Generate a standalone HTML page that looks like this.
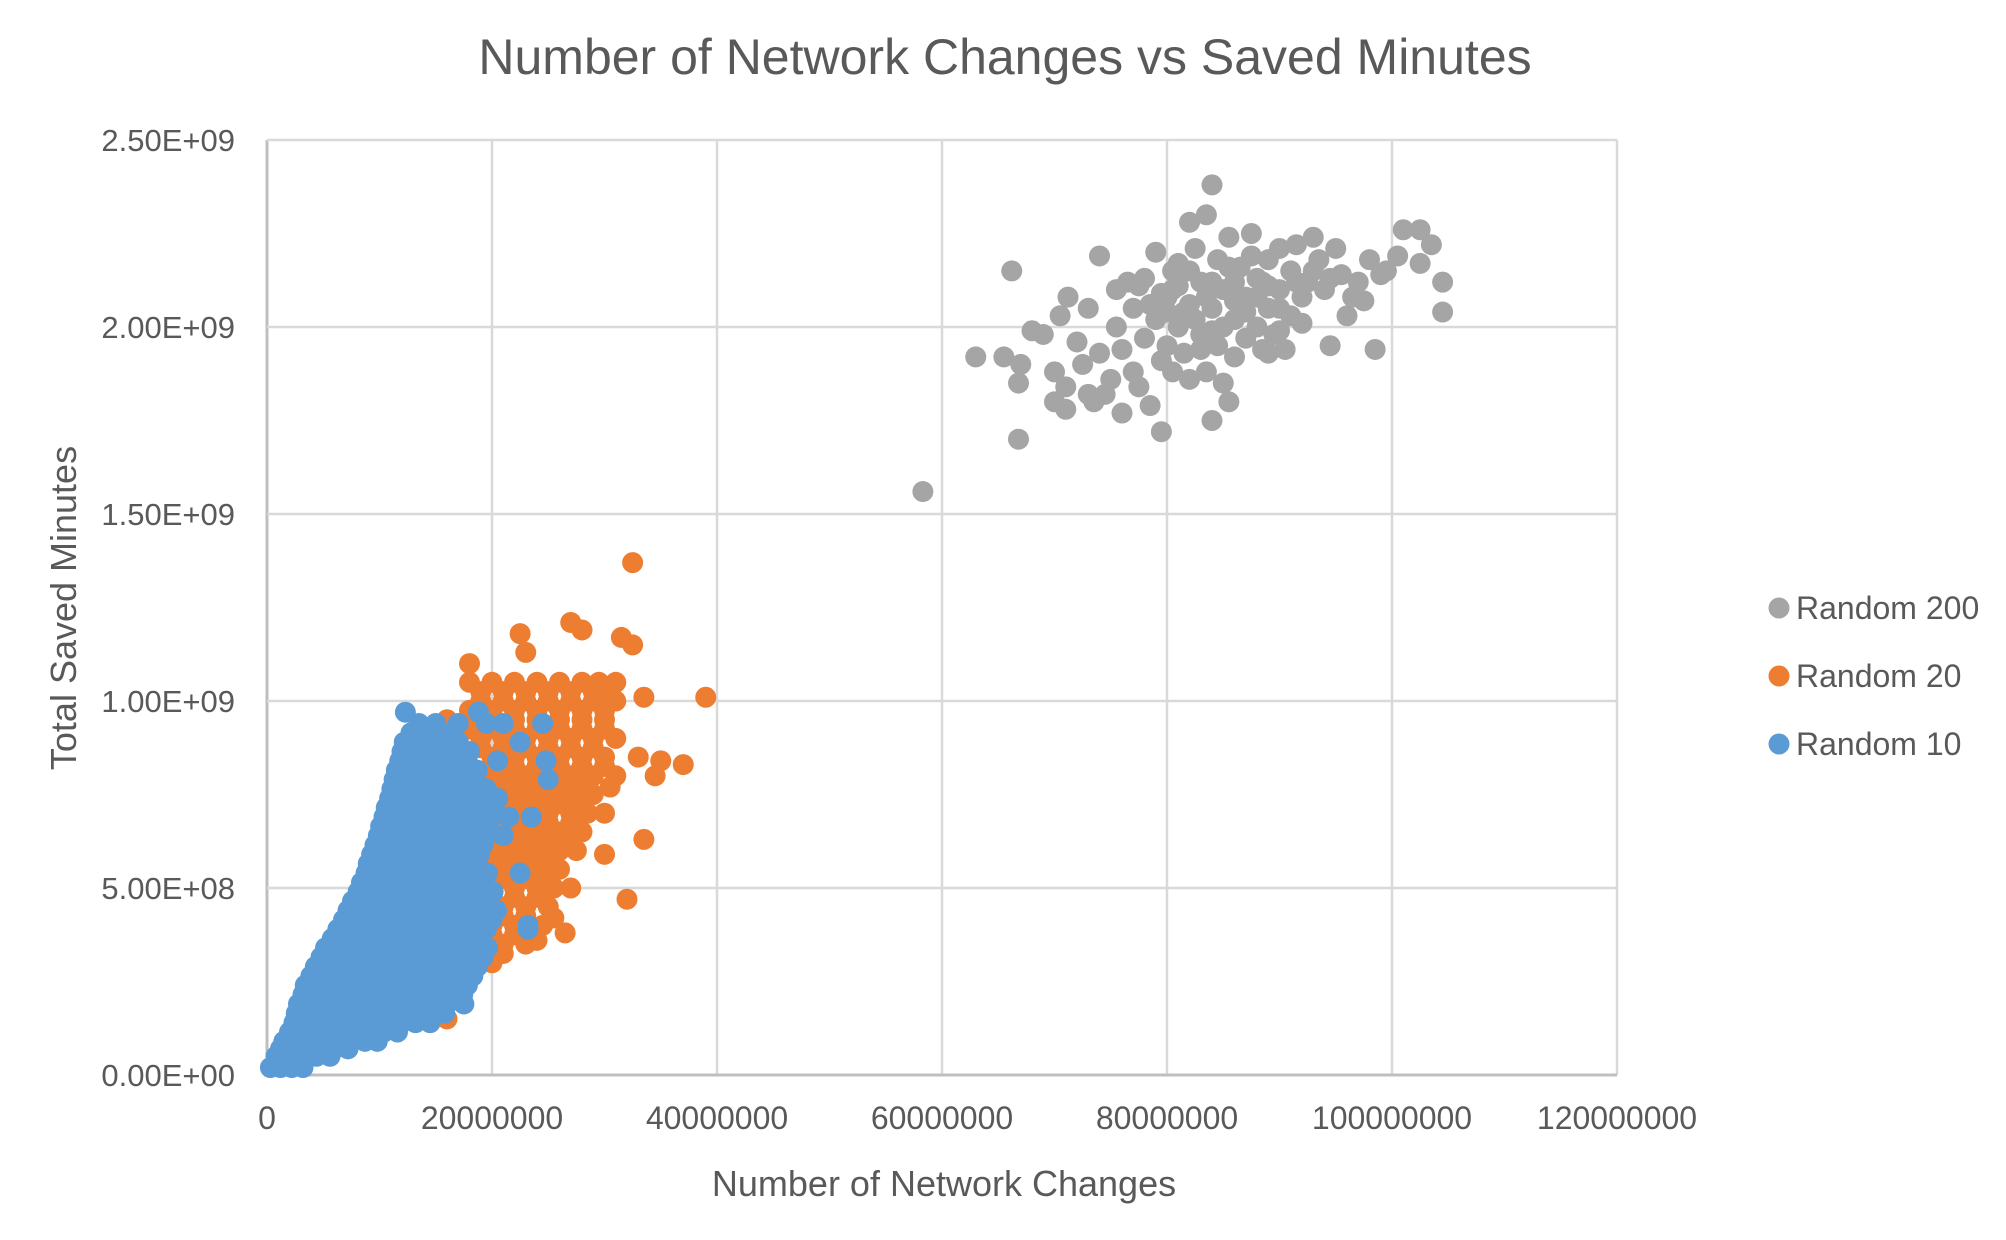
<!DOCTYPE html>
<html><head><meta charset="utf-8"><style>
body{margin:0;background:#fff;}
svg{display:block;font-family:"Liberation Sans",sans-serif;}
</style></head><body>
<svg id="chart" width="2006" height="1240" viewBox="0 0 2006 1240">
<text x="1005" y="74" text-anchor="middle" font-size="50" fill="#595959">Number of Network Changes vs Saved Minutes</text>
<g id="grid"></g>
<g id="ticks"></g>
<g id="pts"></g>
<text x="944" y="1196" text-anchor="middle" font-size="36" fill="#595959">Number of Network Changes</text>
<text transform="translate(76,608) rotate(-90)" text-anchor="middle" font-size="36" fill="#595959">Total Saved Minutes</text>
<g>
<g><circle cx="1779" cy="608" r="10.5" fill="#A5A5A5"/><text x="1796" y="619" font-size="32" fill="#595959">Random 200</text></g>
<g><circle cx="1779" cy="676" r="10.5" fill="#ED7D31"/><text x="1796" y="687" font-size="32" fill="#595959">Random 20</text></g>
<g><circle cx="1779" cy="744" r="10.5" fill="#5B9BD5"/><text x="1796" y="755" font-size="32" fill="#595959">Random 10</text></g>
</g>
</svg>
<script>
const xTicks=[0,20000000,40000000,60000000,80000000,100000000,120000000];
const xTickLabels=["0","20000000","40000000","60000000","80000000","100000000","120000000"];
const yTicks=[0,0.5,1.0,1.5,2.0,2.5];
const yTickLabels=["0.00E+00","5.00E+08","1.00E+09","1.50E+09","2.00E+09","2.50E+09"];
// x in millions, y in billions
const grayPoints=[[58.3,1.56],[66.8,1.70],[63,1.92],[65.5,1.92],[66.2,2.15],[66.8,1.85],[67,1.90],[68,1.99],[69,1.98],[70,1.88],[70,1.80],[70.5,2.03],[71,1.78],[71,1.84],[71.2,2.08],[72,1.96],[72.5,1.90],[73,2.05],[73,1.82],[73.5,1.80],[74,1.93],[74,2.19],[74.5,1.82],[75,1.86],[75.5,2.00],[75.5,2.10],[76,1.77],[76,1.94],[76.5,2.12],[77,1.88],[77,2.05],[77.5,1.84],[78,2.13],[78,1.97],[78.5,1.79],[79,2.20],[79,2.02],[79.5,1.72],[79.5,1.91],[80,2.08],[80,1.95],[80.5,2.15],[80.5,1.88],[81,2.00],[81,2.17],[81.5,1.93],[82,2.28],[82,2.06],[82,1.86],[82.5,2.21],[83,1.98],[83,2.12],[83.5,2.30],[83.5,1.88],[84,2.38],[84,1.75],[84,2.05],[84.5,2.18],[84.5,1.95],[85,1.85],[85,2.10],[85.5,1.80],[85.5,2.24],[86,2.02],[86,1.92],[86.5,2.16],[87,2.08],[87,1.97],[87.5,2.25],[88,2.13],[88,2.00],[88.5,1.94],[89,2.18],[89,2.05],[89.5,1.98],[90,2.21],[90,2.10],[90.5,1.94],[91,2.15],[91,2.03],[91.5,2.22],[92,2.08],[92.5,2.12],[93,2.24],[93.5,2.18],[94,2.10],[94.5,1.95],[95,2.21],[95.5,2.14],[96,2.03],[96.5,2.08],[97,2.12],[97.5,2.07],[98,2.18],[98.5,1.94],[99,2.14],[99.5,2.15],[100.5,2.19],[101,2.26],[102.5,2.26],[102.5,2.17],[103.5,2.22],[104.5,2.12],[104.5,2.04],[88.5,2.12],[86,2.12],[82.5,2.02],[80,2.04],[78.5,2.06],[90,1.99],[92,2.01],[87,2.04],[84,2.12],[83,1.94],[80.5,2.10],[81.5,2.04],[85,2.0],[89,1.93],[86.5,2.06],[83.5,2.08],[77.5,2.11],[79.5,2.09],[82,2.15],[84,1.99],[86,2.07],[88,2.08],[90,2.05],[91.5,2.12],[93,2.15],[94.5,2.13],[81,2.11],[87.5,2.19],[85.5,2.16],[89,2.11]];
const orangeLevels=[1.05,1.0,0.95,0.9,0.85,0.8,0.75,0.7,0.65,0.6,0.55,0.5,0.45,0.4,0.35,0.3,0.25,0.2,1.025,0.975,0.925,0.875,0.825,0.775,0.725,0.675,0.625,0.575,0.525,0.475,0.425,0.375,0.325,0.275];
const orangeXByLevel=[[18,20,22,24,26,28,29.5,31],[19,21,23,25,27,29,31],[16,18,20,22,24,26,28,30],[15,17,19,21,23,25,27,29,31],[14,20,22,24,26,28,30,33],[19,21,23,25,27,29,31],[19,21,23,25,27,29],[19,21,23,25,27,28.5,30],[20,22,24,26,28],[20,22,24,26,27.5],[20,22,24,26],[20,22,24,25.5,27],[19,21,23,25],[18,20,22,24.5],[17,19,21,23],[16,18,20],[15,17],[14,16],[19,21,23,25,27,29,30.5],[18,20,22,24,26,28,30],[16,18,20,22,24,26,28,30],[15,17,19,21,23,25,27,29],[18,20,22,24,26,28,30],[20,22,24,26,28],[20,22,24,26,28],[21,23,25,27],[21,23,25,27],[21,23,25],[21,23,25],[20,22,24],[19,21,23],[18,20,22],[17,19,21],[16,18]];
const orangeOutliers=[[32.5,1.37],[27,1.21],[28,1.19],[22.5,1.18],[31.5,1.17],[32.5,1.15],[23,1.13],[18,1.1],[39,1.01],[33.5,1.01],[37,0.83],[34.5,0.8],[33.5,0.63],[32,0.47],[26.5,0.38],[24,0.36],[16,0.15],[30,0.59],[35,0.84],[30.5,0.77],[25.5,0.42]];
const blueLevels=[0.02,0.05,0.09,0.14,0.19,0.24,0.29,0.34,0.39,0.44,0.49,0.54,0.59,0.64,0.69,0.74,0.79,0.84,0.89,0.94,0.97,0.07,0.115,0.165,0.215,0.265,0.315,0.365,0.415,0.465,0.515,0.565,0.615,0.665,0.715,0.765,0.815,0.865,0.915];
const blueXByLevel=[[0.3,1.2,2.2,3.2],[0.8,2,3.2,4.4,5.6],[1.5,2.7,3.9,5.1,6.3,7.5,8.7,9.8],[2.4,3.6,4.8,6,7.2,8.4,9.6,10.8,12,13.2,14.5],[2.8,4,5.2,6.4,7.6,8.8,10,11.2,12.4,13.6,14.8,16,17.5],[3.4,4.6,5.8,7,8.2,9.4,10.6,11.8,13,14.2,15.4,16.6,17.8],[4.3,5.5,6.7,7.9,9.1,10.3,11.5,12.7,13.9,15.1,16.3,17.5,18.7],[5.2,6.4,7.6,8.8,10,11.2,12.4,13.6,14.8,16,17.2,18.4,19.6],[6.3,7.5,8.7,9.9,11.1,12.3,13.5,14.7,15.9,17.1,18.3,19.5,23.2],[7.2,8.4,9.6,10.8,12,13.2,14.4,15.6,16.8,18,19.2,20.4],[8.1,9.3,10.5,11.7,12.9,14.1,15.3,16.5,17.7,18.9,20.1],[8.8,10,11.2,12.4,13.6,14.8,16,17.2,18.4,19.6,22.5],[9.3,10.5,11.7,12.9,14.1,15.3,16.5,17.7,18.9],[9.9,11.1,12.3,13.5,14.7,15.9,17.1,18.3,19.5,21],[10.4,11.6,12.8,14,15.2,16.4,17.6,18.8,20,21.5,23.5],[10.9,12.1,13.3,14.5,15.7,16.9,18.1,19.3,20.5],[11.3,12.5,13.7,14.9,16.1,17.3,18.5,25],[11.8,13,14.2,15.4,16.6,17.8,20.5,24.8],[12.2,13.4,14.6,15.8,17,22.5],[13.5,15,17,19.5,21,24.5],[12.3,18.8],[1.2,2.4,3.6,4.8,6,7.2],[2,3.2,4.4,5.6,6.8,8,9.2,10.4,11.6],[2.6,3.8,5,6.2,7.4,8.6,9.8,11,12.2,13.4,14.6,15.8],[3.2,4.4,5.6,6.8,8,9.2,10.4,11.6,12.8,14,15.2,16.4,17.4],[3.9,5.1,6.3,7.5,8.7,9.9,11.1,12.3,13.5,14.7,15.9,17.1,18.3],[4.8,6,7.2,8.4,9.6,10.8,12,13.2,14.4,15.6,16.8,18,19.2],[5.8,7,8.2,9.4,10.6,11.8,13,14.2,15.4,16.6,17.8,19],[6.8,8,9.2,10.4,11.6,12.8,14,15.2,16.4,17.6,18.8,20],[7.6,8.8,10,11.2,12.4,13.6,14.8,16,17.2,18.4,19.6],[8.4,9.6,10.8,12,13.2,14.4,15.6,16.8,18,19.2],[9,10.2,11.4,12.6,13.8,15,16.2,17.4,18.6],[9.6,10.8,12,13.2,14.4,15.6,16.8,18,19.2],[10.1,11.3,12.5,13.7,14.9,16.1,17.3,18.5,19.7],[10.6,11.8,13,14.2,15.4,16.6,17.8,19,20.2],[11.1,12.3,13.5,14.7,15.9,17.1,18.3,19.5],[11.5,12.7,13.9,15.1,16.3,17.5,18.7],[12,13.2,14.4,15.6,16.8,18],[12.8,14,15.5,16.5]];
const blueOutliers=[[17.8,0.24],[14,0.17],[23.2,0.40]];

const L=267,R=1617,T=140,B=1075;
const NS="http://www.w3.org/2000/svg";
function xs(v){return L+(v-0)/(120000000)*(R-L);}
function ys(v){return B-(v/2.5)*(B-T);}
function xm(m){return xs(m*1e6);}
function mk(tag,attrs,parent){const e=document.createElementNS(NS,tag);for(const k in attrs)e.setAttribute(k,attrs[k]);parent.appendChild(e);return e;}
const grid=document.getElementById('grid'),ticks=document.getElementById('ticks'),pts=document.getElementById('pts');
xTicks.forEach((t,i)=>{
  const ln=mk('line',{x1:xs(t),x2:xs(t),y1:T,y2:B,stroke:i===0?'#BFBFBF':'#D9D9D9','stroke-width':i===0?3:2.5},grid);
  
  
  const tx=mk('text',{x:xs(t),y:B+54,'text-anchor':'middle','font-size':32,fill:'#595959'},ticks);
  tx.textContent=xTickLabels[i];
  
  
});
yTicks.forEach((t,i)=>{
  const ln=mk('line',{x1:L,x2:R,y1:ys(t),y2:ys(t),stroke:i===0?'#BFBFBF':'#D9D9D9','stroke-width':i===0?3:2.5},grid);
  
  
  const tx=mk('text',{x:235,y:ys(t)+11,'text-anchor':'end','font-size':31,fill:'#595959'},ticks);
  tx.textContent=yTickLabels[i];
  
  
});
function dot(x,y,c,name){
  const e=mk('circle',{cx:xm(x),cy:ys(y),r:10.5,fill:c},pts);
  
  
}
grayPoints.forEach(p=>dot(p[0],p[1],'#A5A5A5','point-random-200'));
orangeLevels.forEach((y,i)=>orangeXByLevel[i].forEach(x=>dot(x,y,'#ED7D31','point-random-20')));
orangeOutliers.forEach(p=>dot(p[0],p[1],'#ED7D31','point-random-20'));
blueLevels.forEach((y,i)=>blueXByLevel[i].forEach(x=>dot(x,y,'#5B9BD5','point-random-10')));
blueOutliers.forEach(p=>dot(p[0],p[1],'#5B9BD5','point-random-10'));
</script>
</body></html>
